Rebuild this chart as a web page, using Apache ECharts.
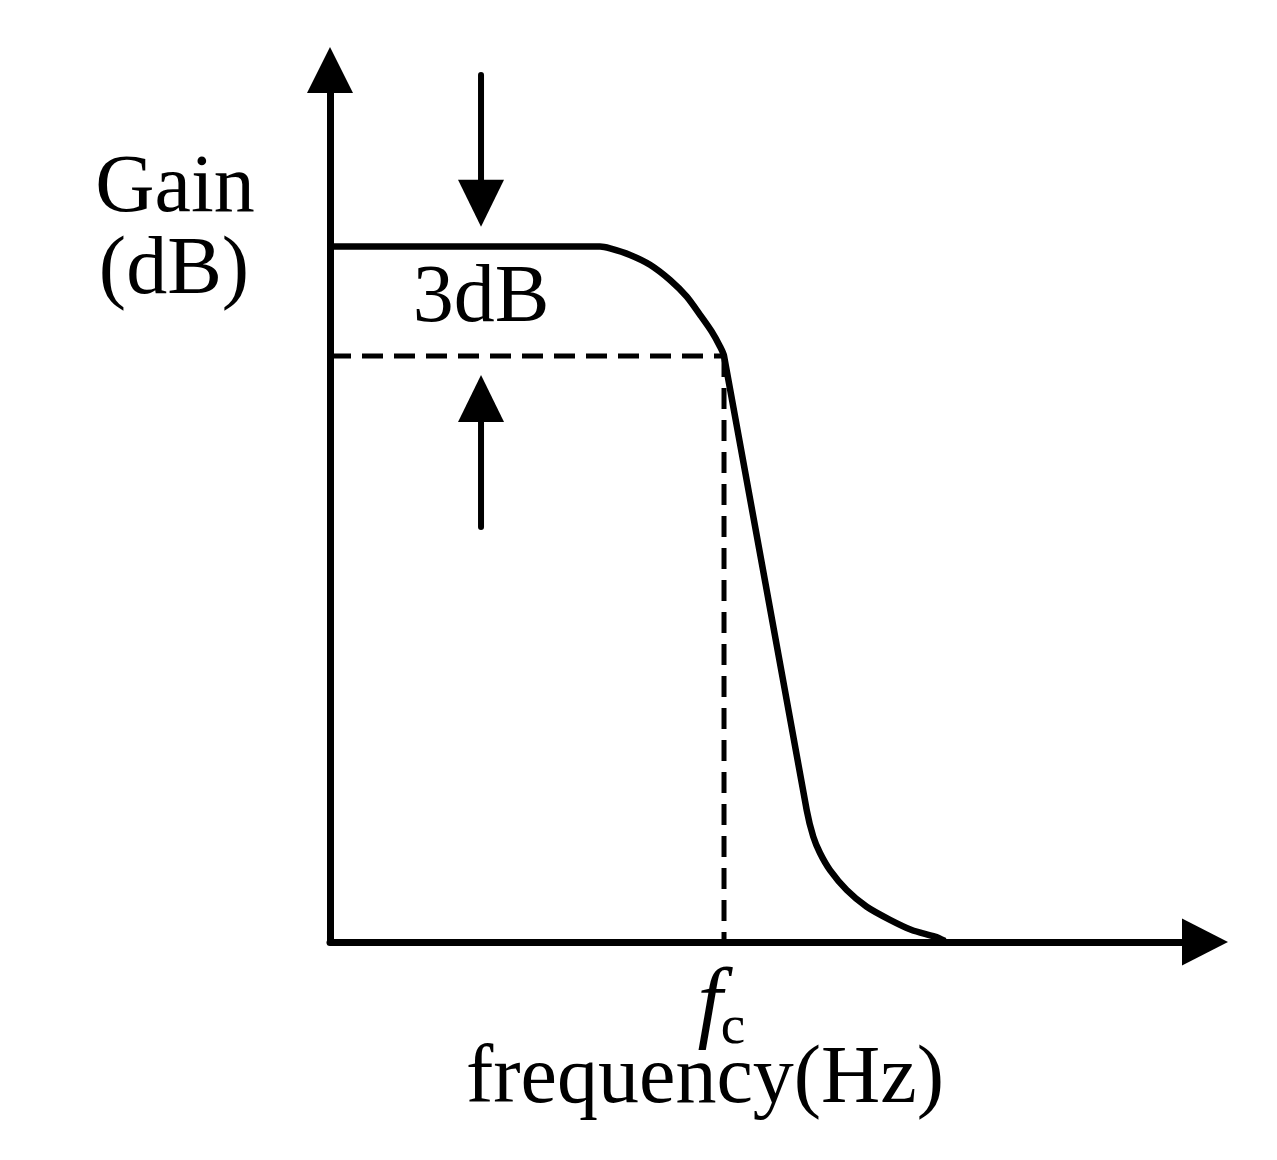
<!DOCTYPE html>
<html>
<head>
<meta charset="utf-8">
<script src="https://cdn.jsdelivr.net/npm/echarts@6/dist/echarts.min.js"></script>
<style>html,body{margin:0;padding:0;background:#fff;}#c{width:1277px;height:1160px;}</style>
</head>
<body>
<div id="c"></div>
<script>
// Gain response curve (x: frequency units 0..100, y: gain units 0..24)
const responseX = [0, 30.86, 32.0, 34.29, 36.57, 38.86, 40.77, 42.29, 43.62, 44.57, 45.03, 54.48, 55.23, 56.0, 57.14, 59.05, 61.34, 64.0, 66.48, 69.14, 70.29];
const responseY = [19.14, 19.14, 19.09, 18.91, 18.64, 18.22, 17.76, 17.26, 16.80, 16.39, 16.13, 3.63, 2.90, 2.45, 1.98, 1.43, 0.97, 0.61, 0.33, 0.15, 0.03];
// Cut-off frequency and -3 dB level
const cutoffX = 45.03;
const cutoffY = 16.13;
// 3 dB marker arrows: x position, stem ends, head centres
const arrowX = 17.26;
const downArrowStem = [23.86, 20.33];
const upArrowStem = [11.42, 14.96];
// Texts
const yAxisLabel = ['Gain', '(dB)'];
const xAxisLabel = 'frequency(Hz)';
const markLabel = '3dB';
const cutoffLabel = ['f', 'c'];

const chart = echarts.init(document.getElementById('c'), null, {renderer: 'canvas'});
const curve = responseX.map((x, i) => [x, responseY[i]]);
const serif = '"Liberation Serif", "Times New Roman", serif';
const stemStyle = {color: '#000', width: 6, cap: 'round'};

chart.setOption({
  backgroundColor: '#fff',
  animation: false,
  grid: {left: 330, right: 72, top: 70, bottom: 218},
  xAxis: {
    type: 'value', min: 0, max: 100,
    axisLine: {show: true, symbol: ['none', 'triangle'], symbolSize: [47, 46], lineStyle: {color: '#000', width: 7}},
    axisTick: {show: false}, axisLabel: {show: false}, splitLine: {show: false}
  },
  yAxis: {
    type: 'value', min: 0, max: 24,
    axisLine: {show: true, symbol: ['none', 'triangle'], symbolSize: [46, 46], lineStyle: {color: '#000', width: 7}},
    axisTick: {show: false}, axisLabel: {show: false}, splitLine: {show: false}
  },
  series: [
    {type: 'line', data: curve, showSymbol: false, symbol: 'none', smooth: 0.25, lineStyle: {color: '#000', width: 6.5, join: 'round'}, z: 5},
    {type: 'line', data: [[0, cutoffY], [cutoffX, cutoffY]], symbol: 'none', lineStyle: {color: '#000', width: 5, type: [21, 11]}},
    {type: 'line', data: [[cutoffX, cutoffY], [cutoffX, 0]], symbol: 'none', lineStyle: {color: '#000', width: 5, type: [21, 11]}},
    {type: 'line', data: [[arrowX, downArrowStem[0]], [arrowX, downArrowStem[1]]], symbol: 'none', lineStyle: stemStyle},
    {type: 'line', data: [[arrowX, upArrowStem[0]], [arrowX, upArrowStem[1]]], symbol: 'none', lineStyle: stemStyle},
    {type: 'scatter', data: [[arrowX, downArrowStem[1]]], symbol: 'triangle', symbolSize: [46, 47], symbolRotate: 180, itemStyle: {color: '#000', opacity: 1}, z: 6},
    {type: 'scatter', data: [[arrowX, upArrowStem[1]]], symbol: 'triangle', symbolSize: [46, 47], itemStyle: {color: '#000', opacity: 1}, z: 6}
  ],
  graphic: [
    {type: 'text', x: 175, y: 189, style: {text: yAxisLabel[0], font: '82px ' + serif, fill: '#000', textAlign: 'center', textVerticalAlign: 'middle'}},
    {type: 'text', x: 174, y: 271, style: {text: yAxisLabel[1], font: '82px ' + serif, fill: '#000', textAlign: 'center', textVerticalAlign: 'middle'}},
    {type: 'text', x: 481, y: 299, style: {text: markLabel, font: '82px ' + serif, fill: '#000', textAlign: 'center', textVerticalAlign: 'middle'}},
    {type: 'text', x: 705, y: 1080, style: {text: xAxisLabel, font: '82px ' + serif, fill: '#000', textAlign: 'center', textVerticalAlign: 'middle'}},
    {type: 'text', x: 710, y: 1007, style: {text: cutoffLabel[0], font: 'italic 90px ' + serif, fill: '#000', textAlign: 'center', textVerticalAlign: 'middle'}},
    {type: 'text', x: 733, y: 1029, style: {text: cutoffLabel[1], font: '55px ' + serif, fill: '#000', textAlign: 'center', textVerticalAlign: 'middle'}}
  ]
});
</script>
</body>
</html>
